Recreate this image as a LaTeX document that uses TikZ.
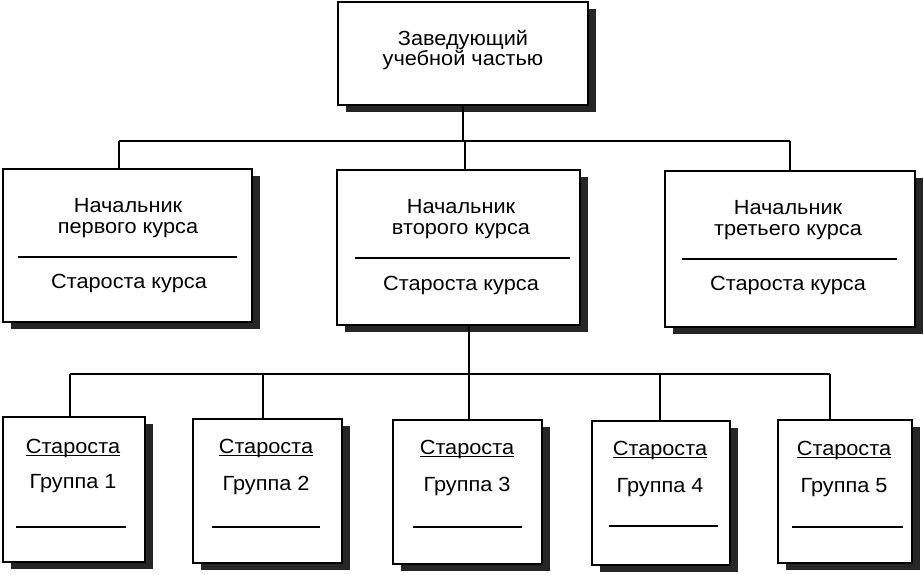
\documentclass[tikz,border=0pt]{standalone}
\usepackage{fontspec}
\setmainfont{Liberation Sans}[FakeStretch=1.06]
\usetikzlibrary{shadows}
\newcommand\ulx[1]{\setbox0\hbox{#1}\rlap{\rule[-2.8pt]{\wd0}{1pt}}\box0}
\begin{document}
\begin{tikzpicture}[x=1pt,y=-1pt,
  box/.style={draw=black, line width=1.3pt, fill=white, rectangle, inner sep=0pt,
    drop shadow={shadow xshift=8pt, shadow yshift=-7pt, fill=black!85, opacity=1}},
  txt/.style={font=\fontsize{20.5}{25}\selectfont, anchor=base, inner sep=0pt},
  conn/.style={line width=1.3pt},
  divline/.style={line width=1.3pt}]
\useasboundingbox[fill=white] (0,0) rectangle (924,574);

% top box
\node[box, minimum width=250pt, minimum height=103pt] (top) at (463,53.5) {};
\node[txt] (top1) at (463,45) {Заведующий};
\node[txt] (top2) at (463,65) {учебной частью};

% course boxes
\node[box, minimum width=249pt, minimum height=153pt] (b1) at (127.5,245.5) {};
\node[box, minimum width=243pt, minimum height=155pt] (b2) at (458.5,247.5) {};
\node[box, minimum width=250pt, minimum height=156pt] (b3) at (790,249) {};

\node[txt] (b1a) at (128,212) {Начальник};
\node[txt] (b1b) at (128,233) {первого курса};
\node[txt] (b1c) at (129,288) {Староста курса};
\draw[divline] (18,257) -- (237,257);

\node[txt] (b2a) at (461,213) {Начальник};
\node[txt] (b2b) at (461,234) {второго курса};
\node[txt] (b2c) at (461,290) {Староста курса};
\draw[divline] (355,258) -- (570,258);

\node[txt] (b3a) at (788,214) {Начальник};
\node[txt] (b3b) at (788,235) {третьего курса};
\node[txt] (b3c) at (788,290) {Староста курса};
\draw[divline] (682,259) -- (897,259);

% group boxes
\node[box, minimum width=142pt, minimum height=145pt] (g1) at (74,489.5) {};
\node[box, minimum width=149pt, minimum height=144pt] (g2) at (267.5,491) {};
\node[box, minimum width=149pt, minimum height=144pt] (g3) at (467.5,492) {};
\node[box, minimum width=138pt, minimum height=144pt] (g4) at (661,493) {};
\node[box, minimum width=134pt, minimum height=143pt] (g5) at (845,491.5) {};

\node[txt] (g1a) at (73,453) {\ulx{Староста}};
\node[txt] (g1b) at (73,488) {Группа 1};
\draw[divline] (16,527) -- (126,527);

\node[txt] (g2a) at (266,453) {\ulx{Староста}};
\node[txt] (g2b) at (266,490) {Группа 2};
\draw[divline] (212,527) -- (320,527);

\node[txt] (g3a) at (467,454) {\ulx{Староста}};
\node[txt] (g3b) at (467,491) {Группа 3};
\draw[divline] (413,527) -- (522,527);

\node[txt] (g4a) at (660,455) {\ulx{Староста}};
\node[txt] (g4b) at (660,492) {Группа 4};
\draw[divline] (609,526) -- (718,526);

\node[txt] (g5a) at (844,455) {\ulx{Староста}};
\node[txt] (g5b) at (844,492) {Группа 5};
\draw[divline] (792,527) -- (903,527);

% connectors level 1
\coordinate (j1) at (119,141);
\coordinate (j2) at (465,141);
\coordinate (j3) at (790,141);
\draw[conn] (top.south) -- (top.south |- j1);
\draw[conn] (j1) -- (j3);
\draw[conn] (j1) -- (j1 |- b1.north);
\draw[conn] (j2) -- (j2 |- b2.north);
\draw[conn] (j3) -- (j3 |- b3.north);

% connectors level 2
\coordinate (k0) at (469,374);
\coordinate (k1) at (70,374);
\coordinate (k2) at (263,374);
\coordinate (k3) at (469,374);
\coordinate (k4) at (660,374);
\coordinate (k5) at (830,374);
\draw[conn] (k0 |- b2.south) -- (k0);
\draw[conn] (k1) -- (k5);
\draw[conn] (k1) -- (k1 |- g1.north);
\draw[conn] (k2) -- (k2 |- g2.north);
\draw[conn] (k3) -- (k3 |- g3.north);
\draw[conn] (k4) -- (k4 |- g4.north);
\draw[conn] (k5) -- (k5 |- g5.north);
\end{tikzpicture}
\end{document}
